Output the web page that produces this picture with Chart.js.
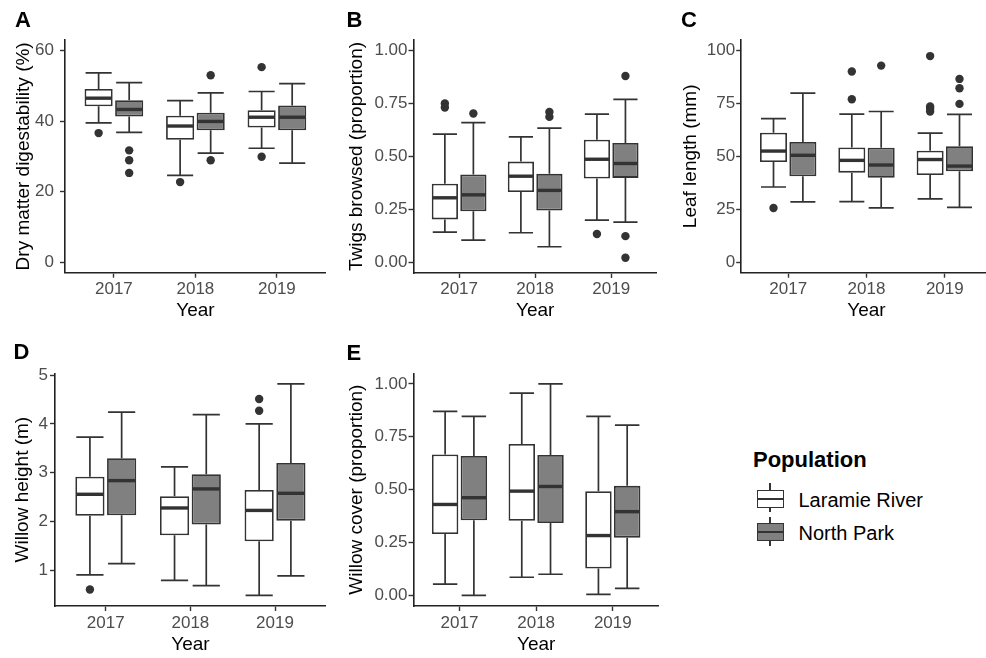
<!DOCTYPE html>
<html>
<head>
<meta charset="utf-8">
<script src="https://cdn.jsdelivr.net/npm/chart.js@4.4.1/dist/chart.umd.min.js"></script>
<style>
  html, body { margin: 0; padding: 0; background: #fff; overflow: hidden; }
  #page { position: relative; width: 986px; height: 658px; overflow: hidden; font-family: "Liberation Sans", Arial, sans-serif; }
  canvas { position: absolute; }
  .tag { position: absolute; font-weight: bold; font-size: 22px; line-height: 22px; color: #000; }
  .legend-title { position: absolute; left: 753px; top: 449px; font-weight: bold; font-size: 22px; line-height: 22px; color: #000; }
  .legend-label { position: absolute; left: 798.5px; font-size: 20px; line-height: 20px; color: #000; }
  .key-stem { position: absolute; left: 769.3px; width: 1.6px; background: #333; }
  .key-box { position: absolute; left: 757px; width: 26.5px; height: 18px; box-sizing: border-box; border: 1.7px solid #333; }
  .key-med { position: absolute; left: 757px; width: 26.5px; height: 2.8px; background: #333; }
</style>
</head>
<body>
<div id="page">
  <canvas id="panelA"></canvas>
  <canvas id="panelB"></canvas>
  <canvas id="panelC"></canvas>
  <canvas id="panelD"></canvas>
  <canvas id="panelE"></canvas>

  <div class="tag" style="left:15px; top:9px;">A</div>
  <div class="tag" style="left:346.5px; top:9px;">B</div>
  <div class="tag" style="left:681px; top:9px;">C</div>
  <div class="tag" style="left:13.5px; top:341px;">D</div>
  <div class="tag" style="left:346.5px; top:342px;">E</div>

  <div class="legend-title">Population</div>
  <div class="key-stem" style="top:483px; height:29px;"></div>
  <div class="key-box" style="top:490px; background:#fff;"></div>
  <div class="key-med" style="top:497.6px;"></div>
  <div class="legend-label" style="top:490px;">Laramie River</div>
  <div class="key-stem" style="top:517px; height:29px;"></div>
  <div class="key-box" style="top:523px; background:#808080;"></div>
  <div class="key-med" style="top:530.6px;"></div>
  <div class="legend-label" style="top:522.5px;">North Park</div>
</div>

<script>
const years = ['2017', '2018', '2019'];

// box stats per year: [lower whisker, Q1, median, Q3, upper whisker]
const digestLaramie = [[39.5, 44.2, 46.5, 49.1, 53.7], [24.6, 34.7, 38.6, 41.5, 45.8], [32.3, 38.2, 41.1, 43.1, 48.4]];
const digestNorthPark = [[36.8, 41.3, 43.3, 45.9, 50.9], [30.9, 37.4, 39.9, 42.4, 48.0], [28.1, 37.4, 41.1, 44.4, 50.6]];
const digestLaramieOut = [[36.6], [22.7], [55.3, 29.9]];
const digestNorthParkOut = [[31.7, 28.9, 25.3], [53.0, 28.9], []];
const digestTicks = [0, 20, 40, 60];

const twigsLaramie = [[0.143, 0.203, 0.305, 0.371, 0.606], [0.140, 0.332, 0.407, 0.476, 0.593], [0.200, 0.396, 0.487, 0.579, 0.700]];
const twigsNorthPark = [[0.105, 0.241, 0.319, 0.415, 0.660], [0.074, 0.245, 0.340, 0.418, 0.634], [0.190, 0.399, 0.467, 0.564, 0.770]];
const twigsLaramieOut = [[0.750, 0.731], [], [0.134]];
const twigsNorthParkOut = [[0.703], [0.710, 0.687], [0.880, 0.124, 0.022]];
const proportionTicks = [0, 0.25, 0.5, 0.75, 1];

const leafLaramie = [[35.5, 47.3, 52.5, 61.2, 67.8], [28.6, 42.3, 48.1, 54.2, 70.0], [29.9, 41.2, 48.5, 52.7, 61.0]];
const leafNorthPark = [[28.5, 40.6, 50.5, 56.8, 79.9], [25.6, 39.9, 45.9, 54.1, 71.2], [25.9, 42.9, 45.4, 54.8, 69.8]];
const leafLaramieOut = [[25.6], [90.1, 77.0], [97.4, 73.6, 72.5, 71.2]];
const leafNorthParkOut = [[], [92.9], [86.6, 82.2, 74.8]];
const leafTicks = [0, 25, 50, 75, 100];

const heightLaramie = [[0.91, 2.12, 2.56, 2.92, 3.73], [0.80, 1.72, 2.28, 2.52, 3.12], [0.49, 1.60, 2.23, 2.65, 4.00]];
const heightNorthPark = [[1.14, 2.13, 2.84, 3.30, 4.24], [0.69, 1.94, 2.67, 2.97, 4.19], [0.89, 2.02, 2.58, 3.20, 4.82]];
const heightLaramieOut = [[0.61], [], [4.51, 4.27]];
const heightNorthParkOut = [[], [], []];
const heightTicks = [1, 2, 3, 4, 5];

const coverLaramie = [[0.053, 0.290, 0.430, 0.666, 0.870], [0.086, 0.353, 0.493, 0.716, 0.956], [0.005, 0.127, 0.283, 0.493, 0.846]];
const coverNorthPark = [[0.000, 0.355, 0.462, 0.659, 0.846], [0.100, 0.342, 0.515, 0.664, 1.000], [0.033, 0.273, 0.396, 0.518, 0.805]];
const coverLaramieOut = [[], [], []];
const coverNorthParkOut = [[], [], []];

const LINE = '#333333';
const DODGE = 0.1875;
const FONT = '"Liberation Sans", Arial, sans-serif';

Chart.defaults.font.family = FONT;

// whiskers, caps and median drawn on top of the floating bars
const boxWhiskers = {
    id: 'boxWhiskers',
    afterDatasetsDraw(chart) {
        const ctx = chart.ctx;
        const yScale = chart.scales.y;
        chart.data.datasets.forEach((ds, di) => {
            if (!ds.stats) return;
            const meta = chart.getDatasetMeta(di);
            ds.stats.forEach((s, i) => {
                const bar = meta.data[i];
                const cx = bar.x;
                const half = bar.width / 2;
                const py = v => yScale.getPixelForValue(v);
                ctx.save();
                ctx.strokeStyle = LINE;
                ctx.lineWidth = 1.7;
                ctx.beginPath();
                ctx.moveTo(cx, py(s[3])); ctx.lineTo(cx, py(s[4]));
                ctx.moveTo(cx, py(s[1])); ctx.lineTo(cx, py(s[0]));
                ctx.moveTo(cx - half + 1, py(s[4])); ctx.lineTo(cx + half - 1, py(s[4]));
                ctx.moveTo(cx - half + 1, py(s[0])); ctx.lineTo(cx + half - 1, py(s[0]));
                ctx.stroke();
                ctx.lineWidth = 3.4;
                ctx.beginPath();
                ctx.moveTo(cx - half + 1, py(s[2])); ctx.lineTo(cx + half - 1, py(s[2]));
                ctx.stroke();
                ctx.restore();
            });
        });
    }
};

function boxDataset(label, stats, offset, fill) {
    return {
        type: 'bar',
        label: label,
        data: stats.map((s, i) => ({ x: i + 1 + offset, y: [s[1], s[3]] })),
        stats: stats,
        backgroundColor: fill,
        borderColor: LINE,
        borderWidth: 1.8,
        borderSkipped: false,
        grouped: false,
        categoryPercentage: 1,
        barPercentage: 0.92
    };
}

function outlierDataset(outs, offset) {
    return {
        type: 'scatter',
        data: outs.flatMap((vals, i) => vals.map(v => ({ x: i + 1 + offset, y: v }))),
        pointRadius: 4.2,
        pointBackgroundColor: LINE,
        pointBorderWidth: 0,
        showLine: false
    };
}

function makePanel(p) {
    const canvas = document.getElementById(p.id);
    canvas.width = p.box.w;
    canvas.height = p.box.h;
    canvas.style.left = p.box.x + 'px';
    canvas.style.top = p.box.y + 'px';

    const axisGrid = { display: true, offset: false, drawOnChartArea: false, drawTicks: true, tickLength: 5, tickColor: LINE, tickWidth: 1.4 };
    const axisBorder = { display: true, color: '#222', width: 1.6 };

    new Chart(canvas, {
        type: 'bar',
        data: {
            datasets: [
                boxDataset('Laramie River', p.laramie, -DODGE, '#ffffff'),
                boxDataset('North Park', p.northPark, DODGE, '#808080'),
                outlierDataset(p.laramieOut, -DODGE),
                outlierDataset(p.northParkOut, DODGE)
            ]
        },
        options: {
            responsive: false,
            animation: false,
            devicePixelRatio: 1,
            events: [],
            layout: {
                padding: { left: 0, top: p.plot.t - p.box.y, right: p.box.x + p.box.w - p.plot.r, bottom: 0 }
            },
            plugins: { legend: { display: false }, tooltip: { enabled: false } },
            scales: {
                x: {
                    type: 'linear',
                    min: 0.4,
                    max: 3.6,
                    offset: false,
                    afterBuildTicks: s => { s.ticks = years.map((_, i) => ({ value: i + 1 })); },
                    afterFit: s => { s.height = p.box.y + p.box.h - p.plot.b; },
                    ticks: {
                        callback: v => years[Math.round(v) - 1],
                        color: '#4d4d4d',
                        font: { size: 17 },
                        padding: p.xTickPad,
                        maxRotation: 0,
                        autoSkip: false
                    },
                    grid: axisGrid,
                    border: axisBorder,
                    title: { display: true, text: 'Year', color: '#000', font: { size: 19 }, padding: { top: 0, bottom: p.xTitlePad } }
                },
                y: {
                    type: 'linear',
                    min: p.range[0],
                    max: p.range[1],
                    afterBuildTicks: s => { s.ticks = p.ticks.map(v => ({ value: v })); },
                    afterFit: s => { s.width = p.plot.l - p.box.x; },
                    ticks: {
                        callback: p.fmt,
                        color: '#4d4d4d',
                        font: { size: 17 },
                        padding: p.yTickPad
                    },
                    grid: axisGrid,
                    border: axisBorder,
                    title: { display: true, text: p.yTitle, color: '#000', font: { size: 19 }, padding: { top: p.yTitlePad, bottom: 0 } }
                }
            }
        },
        plugins: [boxWhiskers]
    });
}

const whole = v => String(v);
const twoDp = v => v.toFixed(2);

makePanel({
    id: 'panelA', yTitle: 'Dry matter digestability (%)',
    laramie: digestLaramie, northPark: digestNorthPark, laramieOut: digestLaramieOut, northParkOut: digestNorthParkOut,
    ticks: digestTicks, fmt: whole, range: [-3, 63],
    box: { x: 0, y: 0, w: 330, h: 330 }, plot: { l: 65, t: 40, r: 327.4, b: 272.7 },
    yTitlePad: 11.9, yTickPad: 6, xTickPad: 1, xTitlePad: 8
});
makePanel({
    id: 'panelB', yTitle: 'Twigs browsed (proportion)',
    laramie: twigsLaramie, northPark: twigsNorthPark, laramieOut: twigsLaramieOut, northParkOut: twigsNorthParkOut,
    ticks: proportionTicks, fmt: twoDp, range: [-0.05, 1.05],
    box: { x: 335, y: 0, w: 326, h: 330 }, plot: { l: 413.5, t: 40, r: 658.8, b: 273 },
    yTitlePad: 10.3, yTickPad: 1, xTickPad: 1, xTitlePad: 8
});
makePanel({
    id: 'panelC', yTitle: 'Leaf length (mm)',
    laramie: leafLaramie, northPark: leafNorthPark, laramieOut: leafLaramieOut, northParkOut: leafNorthParkOut,
    ticks: leafTicks, fmt: whole, range: [-5, 105],
    box: { x: 662, y: 0, w: 334, h: 330 }, plot: { l: 741.2, t: 40, r: 994.5, b: 272.7 },
    yTitlePad: 17.1, yTickPad: 1, xTickPad: 1, xTitlePad: 8
});
makePanel({
    id: 'panelD', yTitle: 'Willow height (m)',
    laramie: heightLaramie, northPark: heightNorthPark, laramieOut: heightLaramieOut, northParkOut: heightNorthParkOut,
    ticks: heightTicks, fmt: whole, range: [0.2735, 5.0365],
    box: { x: 0, y: 330, w: 330, h: 328 }, plot: { l: 55, t: 373.3, r: 327, b: 606 },
    yTitlePad: 11.1, yTickPad: 2, xTickPad: 2.5, xTitlePad: 1.5
});
makePanel({
    id: 'panelE', yTitle: 'Willow cover (proportion)',
    laramie: coverLaramie, northPark: coverNorthPark, laramieOut: coverLaramieOut, northParkOut: coverNorthParkOut,
    ticks: proportionTicks, fmt: twoDp, range: [-0.05, 1.05],
    box: { x: 335, y: 330, w: 326, h: 328 }, plot: { l: 413.5, t: 373.3, r: 658.8, b: 606 },
    yTitlePad: 10.3, yTickPad: 1, xTickPad: 2.5, xTitlePad: 1.5
});
</script>
</body>
</html>
